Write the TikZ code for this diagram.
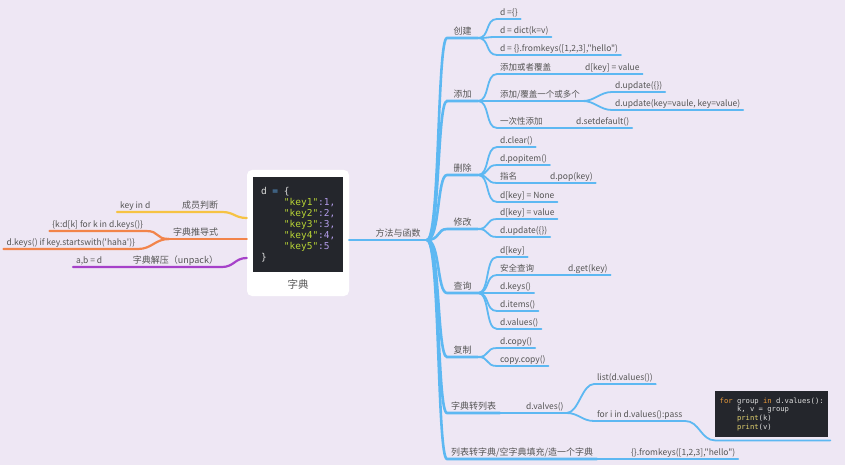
\documentclass[tikz,border=0pt]{standalone}
\usepackage{fontspec}
\setmainfont{Noto Sans CJK SC}[Ligatures=TeXOff]
\newfontfamily\codefont{DejaVu Sans Mono}[Ligatures=TeXOff]
\usepackage{tikz}
\usetikzlibrary{positioning}

\definecolor{bgc}{HTML}{EEE7F4}
\definecolor{txt}{HTML}{555555}
\definecolor{mblue}{HTML}{5DB8F2}
\definecolor{myel}{HTML}{F6C343}
\definecolor{mora}{HTML}{F2844A}
\definecolor{mpur}{HTML}{A641C9}
\definecolor{codebg}{HTML}{24262C}
\definecolor{cw}{HTML}{DDDDDD}
\definecolor{cop}{HTML}{5FA8E8}
\definecolor{cstr}{HTML}{B8D435}
\definecolor{cnum}{HTML}{B39DEB}
\definecolor{ckw}{HTML}{E89A3C}
\definecolor{cfn}{HTML}{E3D26F}

\tikzset{
  lab/.style={text=txt,inner xsep=3pt,inner ysep=1.5pt,outer sep=0pt,
    text height=7pt,text depth=2pt,font=\fontsize{8.5}{10}\selectfont},
  cat/.style={lab,inner xsep=4pt,font=\fontsize{9}{11}\selectfont},
  ln/.style={line width=1.8pt,line cap=round},
  blueln/.style={ln,draw=mblue},
  trunk/.style={ln,draw=mblue,line width=2.6pt},
  yelln/.style={ln,draw=myel,line width=2.2pt},
  oraln/.style={ln,draw=mora,line width=2.2pt},
  purln/.style={ln,draw=mpur,line width=2.2pt},
  codebox/.style={fill=codebg,text=cw,align=left,inner sep=4pt}
}

\begin{document}
\begin{tikzpicture}[x=1pt,y=-1pt]
  \fill[bgc] (0,0) rectangle (845,465);
  \useasboundingbox (0,0) rectangle (845,465);

  % centre: the dict
  \node[fill=white,rounded corners=5pt,minimum width=102pt,minimum height=126pt] (dict) at (298,233) {};
  \node[codebox,anchor=north west,minimum width=90pt,minimum height=95pt,
        font=\codefont\fontsize{9.5}{11}\selectfont] (code) at (253,177)
    {{\color{cw}d} {\color{cop}=} \{\\
     \ \ \ \ {\color{cstr}"key1"}{\color{cnum}:1,}\\
     \ \ \ \ {\color{cstr}"key2"}{\color{cnum}:2,}\\
     \ \ \ \ {\color{cstr}"key3"}{\color{cnum}:3,}\\
     \ \ \ \ {\color{cstr}"key4"}{\color{cnum}:4,}\\
     \ \ \ \ {\color{cstr}"key5"}{\color{cnum}:5}\\
     \}};
  \node[text=txt,font=\fontsize{10.5}{12}\selectfont] (dname) at (298,284) {字典};

  % left side
  \node[cat,anchor=south east] (mem) at (222,212) {成员判断};
  \node[lab,anchor=south west] (kin) at (117,212) {key in d};
  \node[cat,anchor=south east] (cmp) at (222,239) {字典推导式};
  \node[lab,anchor=south east] (cmp1) at (146,231) {\{k:d[k] for k in d.keys()\}};
  \node[lab,anchor=south east] (cmp2) at (138,249) {d.keys() if key.startswith('haha')\}};
  \node[cat,anchor=south east] (unp) at (222,267) {字典解压（unpack）};
  \node[lab,anchor=south west] (abd) at (73,267) {a,b = d};

  \draw[yelln] ([yshift=15pt]dict.west) .. controls +(-12,0) and +(12,0) .. (mem.south east)
    -- (mem.south west) -- (kin.south east) -- (kin.south west);
  \draw[oraln] (dict.west |- cmp.south east) -- (cmp.south west);
  \foreach \to in {cmp1,cmp2}
    \draw[oraln] (cmp.south west) .. controls +(-14,0) and +(14,0) .. (\to.south east) -- (\to.south west);
  \draw[purln] ([yshift=-25pt]dict.west) .. controls +(-12,0) and +(12,0) .. (unp.south east)
    -- (unp.south west) -- (abd.south east) -- (abd.south west);

  % right side
  \coordinate (hub) at (427,240);
  \node[cat,anchor=south] (fn) at (398,240) {方法与函数};
  \draw[trunk] (dict.east |- hub) -- (hub);

  \node[cat,anchor=south west,minimum width=31pt] (cj) at (447,38)  {创建};
  \node[cat,anchor=south west,minimum width=31pt] (tj) at (447,101) {添加};
  \node[cat,anchor=south west,minimum width=31pt] (sc) at (447,175) {删除};
  \node[cat,anchor=south west,minimum width=31pt] (xg) at (447,229) {修改};
  \node[cat,anchor=south west,minimum width=31pt] (cx) at (447,293) {查询};
  \node[cat,anchor=south west,minimum width=31pt] (fz) at (447,357) {复制};
  \node[cat,anchor=south west] (zl) at (447,413) {字典转列表};
  \node[cat,anchor=south west] (lz) at (447,459) {列表转字典/空字典填充/造一个字典};

  \node[lab,anchor=south west] (cj1) at (497,19) {d =\{\}};
  \node[lab,anchor=south west] (cj2) at (497,37) {d = dict(k=v)};
  \node[lab,anchor=south west] (cj3) at (497,55) {d = \{\}.fromkeys([1,2,3],"hello")};

  \node[lab,anchor=south west] (tj1) at (497,74) {添加或者覆盖};
  \node[lab,anchor=south west] (tj1a) at (582,74) {d[key] = value};
  \node[lab,anchor=south west] (tj2) at (497,101) {添加/覆盖一个或多个};
  \node[lab,anchor=south west] (tj2a) at (612,92) {d.update(\{\})};
  \node[lab,anchor=south west] (tj2b) at (612,110) {d.update(key=vaule, key=value)};
  \node[lab,anchor=south west] (tj3) at (497,128) {一次性添加};
  \node[lab,anchor=south west] (tj3a) at (573,128) {d.setdefault()};

  \node[lab,anchor=south west] (sc1) at (497,147) {d.clear()};
  \node[lab,anchor=south west] (sc2) at (497,165) {d.popitem()};
  \node[lab,anchor=south west] (sc3) at (497,183) {指名};
  \node[lab,anchor=south west] (sc3a) at (547,183) {d.pop(key)};
  \node[lab,anchor=south west] (sc4) at (497,202) {d[key] = None};

  \node[lab,anchor=south west] (xg1) at (497,219) {d[key] = value};
  \node[lab,anchor=south west] (xg2) at (497,237) {d.update(\{\})};

  \node[lab,anchor=south west] (cx1) at (497,257) {d[key]};
  \node[lab,anchor=south west] (cx2) at (497,275) {安全查询};
  \node[lab,anchor=south west] (cx2a) at (565,275) {d.get(key)};
  \node[lab,anchor=south west] (cx3) at (497,293) {d.keys()};
  \node[lab,anchor=south west] (cx4) at (497,311) {d.items()};
  \node[lab,anchor=south west] (cx5) at (497,329) {d.values()};

  \node[lab,anchor=south west] (fz1) at (497,348) {d.copy()};
  \node[lab,anchor=south west] (fz2) at (497,366) {copy.copy()};

  \node[lab,anchor=south west] (zla) at (523,413) {d.valves()};
  \node[lab,anchor=south west] (zl1) at (594,384) {list(d.values())};
  \node[lab,anchor=south west] (zl2) at (594,421) {for i in d.values():pass};
  \node[codebox,anchor=north west,minimum width=113pt,minimum height=46pt,
        font=\codefont\fontsize{7.2}{8.7}\selectfont] (zlc) at (715,391)
    {{\color{ckw}for} group {\color{ckw}in} d.values():\\
     \ \ \ \ k, v = group\\
     \ \ \ \ {\color{cfn}print}(k)\\
     \ \ \ \ {\color{cfn}print}(v)};

  \node[lab,anchor=south west] (lza) at (628,459) {\{\}.fromkeys([1,2,3],"hello")};

  \foreach \c in {cj,tj,sc,xg,cx,fz,zl,lz}
    \draw[trunk] (hub) .. controls +(13,0) and +(-10,0) .. (\c.south west) -- (\c.south east);

  \foreach \from/\to in {cj/cj1,cj/cj2,cj/cj3,tj/tj1,tj1/tj1a,tj/tj2,tj2/tj2a,tj2/tj2b,tj/tj3,tj3/tj3a,
      sc/sc1,sc/sc2,sc/sc3,sc3/sc3a,sc/sc4,xg/xg1,xg/xg2,cx/cx1,cx/cx2,cx2/cx2a,cx/cx3,cx/cx4,cx/cx5,
      fz/fz1,fz/fz2,zl/zla,zla/zl1,zla/zl2,lz/lza}
    \draw[blueln] (\from.south east) .. controls +(12,0) and +(-12,0) .. (\to.south west) -- (\to.south east);

  \draw[blueln] (zl2.south east) .. controls +(14,0) and +(-14,0) .. ([yshift=-3pt]zlc.south west)
    -- ([yshift=-3pt]zlc.south east) -- ++(2,0);

\end{tikzpicture}
\end{document}
